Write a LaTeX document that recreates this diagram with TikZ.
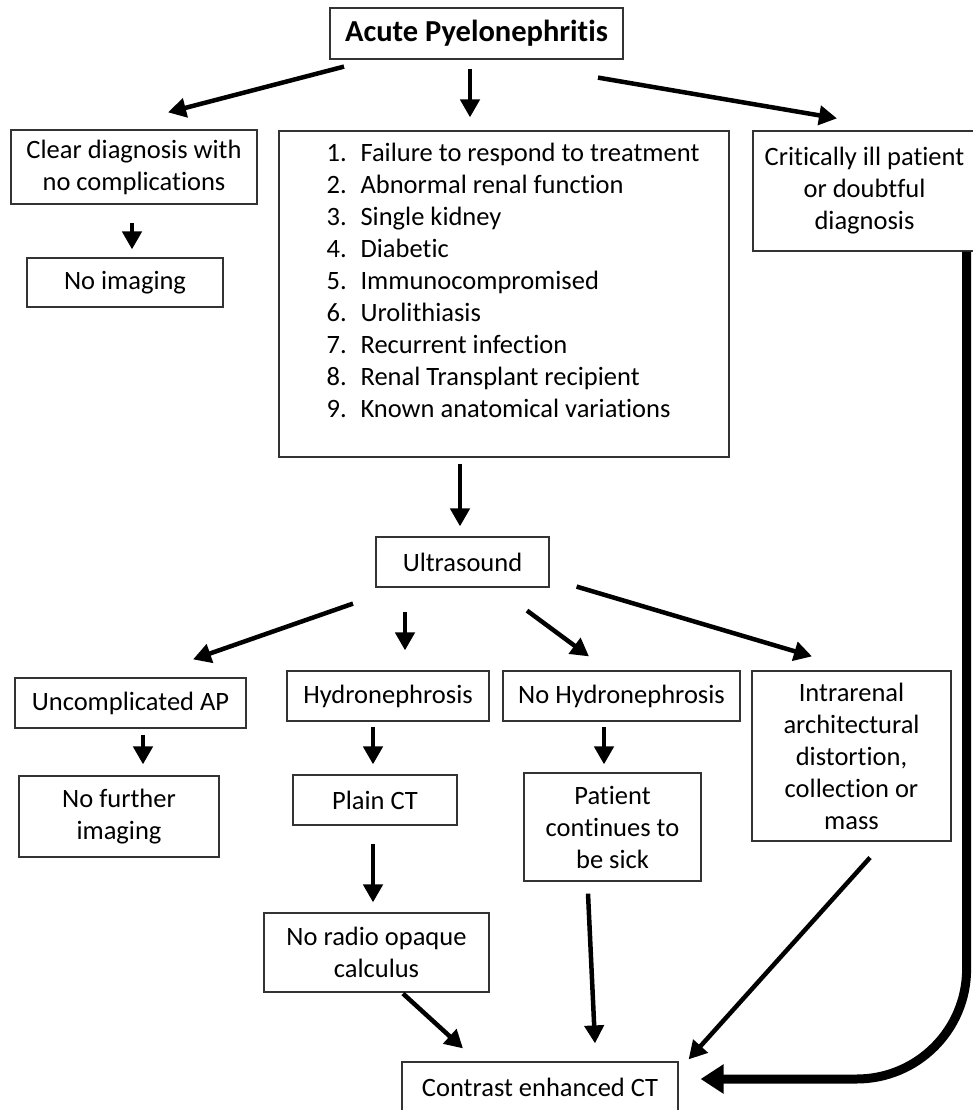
\documentclass[tikz,border=0pt]{standalone}
\usepackage{fontspec}
\setmainfont{Carlito}[Ligatures=NoCommon]
\usepackage{tikz}
\usetikzlibrary{arrows.meta}
\tikzset{>={Triangle[width=19pt,length=18pt]}}

\begin{document}
\begin{tikzpicture}[
    x = 1pt, y = -1pt,
    box/.style = {draw=black!80, line width=1.2pt, align=center,
        inner sep = 0pt, font=\fontsize{26.5pt}{32pt}\selectfont},
    arr/.style = {->, line width=4.5pt},
    bigarr/.style = {-{Triangle[width=28pt,length=23pt]}, line width=9pt,
        rounded corners=110pt}
  ]
  \useasboundingbox (0,0) rectangle (973,1110);

  % top row
  \node[box, minimum width=293, minimum height=51,
        font=\bfseries\fontsize{30.5pt}{34pt}\selectfont] (title) at (476.5,33.5) {Acute Pyelonephritis};
  \node[box, minimum width=246, minimum height=74] (clear) at (134,167) {Clear diagnosis with\\no complications};
  \node[box, minimum width=196, minimum height=49] (noimg) at (125,282.5) {No imaging};
  \node[box, minimum width=450, minimum height=326] (list) at (504,294) {\hspace{18pt}\begin{tabular}{@{}l@{}}
    \makebox[34pt][l]{1.}Failure to respond to treatment\\
    \makebox[34pt][l]{2.}Abnormal renal function\\
    \makebox[34pt][l]{3.}Single kidney\\
    \makebox[34pt][l]{4.}Diabetic\\
    \makebox[34pt][l]{5.}Immunocompromised\\
    \makebox[34pt][l]{6.}Urolithiasis\\
    \makebox[34pt][l]{7.}Recurrent infection\\
    \makebox[34pt][l]{8.}Renal Transplant recipient\\
    \makebox[34pt][l]{9.}Known anatomical variations\\[22pt]
  \end{tabular}};
  \node[box, minimum width=223, minimum height=120] (crit) at (864.5,191) {Critically ill patient\\or doubtful\\diagnosis};

  % ultrasound and below
  \node[box, minimum width=173, minimum height=50] (us) at (462.5,562) {Ultrasound};
  \node[box, minimum width=231, minimum height=50] (uncomp) at (130.5,703) {Uncomplicated AP};
  \node[box, minimum width=202, minimum height=50] (hydro) at (388,696) {Hydronephrosis};
  \node[box, minimum width=237, minimum height=50] (nohydro) at (621.5,696) {No Hydronephrosis};
  \node[box, minimum width=199, minimum height=170] (intra) at (851.5,756) {Intrarenal\\architectural\\distortion,\\collection or\\mass};
  \node[box, minimum width=200, minimum height=81] (nofurther) at (119,816.5) {No further\\imaging};
  \node[box, minimum width=164, minimum height=50] (plain) at (375,800) {Plain CT};
  \node[box, minimum width=177, minimum height=108] (patient) at (612.5,827) {Patient\\continues to\\be sick};
  \node[box, minimum width=225, minimum height=79] (noradio) at (376.5,952.5) {No radio opaque\\calculus};
  \node[box, minimum width=276, minimum height=50] (contrast) at (540,1087) {Contrast enhanced CT};

  % connectors
  \draw[arr] ([shift={(-132.5,7)}]title.south) -- ([shift={(34,-17)}]clear.north);
  \draw[arr] ([shift={(-6.5,9)}]title.south) -- ([shift={(-34,-13)}]list.north);
  \draw[arr] ([shift={(121.5,18)}]title.south) -- ([shift={(-27.5,-12)}]crit.north);
  \draw[arr] ([shift={(-2,18)}]clear.south) -- ([shift={(7,-8)}]noimg.north);
  \draw[arr] ([shift={(-44,6)}]list.south) -- ([shift={(-2.5,-10)}]us.north);

  \draw[arr] ([shift={(-109.5,16)}]us.south) -- ([shift={(62.5,-18)}]uncomp.north);
  \draw[arr] ([shift={(-57.5,24)}]us.south) -- ([shift={(17,-20)}]hydro.north);
  \draw[arr] ([shift={(64.5,23)}]us.south) -- ([shift={(-32.5,-14)}]nohydro.north);
  \draw[arr] ([shift={(27,-1)}]us.south east) -- ([shift={(-39.5,-14)}]intra.north);

  \draw[arr] ([shift={(12.5,6)}]uncomp.south) -- ([shift={(24,-11)}]nofurther.north);
  \draw[arr] ([shift={(-15,5)}]hydro.south) -- ([shift={(-2,-10)}]plain.north);
  \draw[arr] ([shift={(-17.5,5)}]nohydro.south) -- ([shift={(-8.5,-8)}]patient.north);
  \draw[arr] ([shift={(-2,18)}]plain.south) -- ([shift={(-3.5,-10)}]noradio.north);

  \draw[arr] ([shift={(26.5,1)}]noradio.south) -- ([shift={(-77,-13)}]contrast.north);
  \draw[arr] ([shift={(-24.5,12)}]patient.south) -- ([shift={(55,-18)}]contrast.north);
  \draw[arr] ([shift={(18.5,16)}]intra.south) -- ([shift={(10,-2)}]contrast.north east);
  \draw[bigarr] ([shift={(-10,0)}]crit.south east) |- ([shift={(22,-8)}]contrast.east);
\end{tikzpicture}
\end{document}
